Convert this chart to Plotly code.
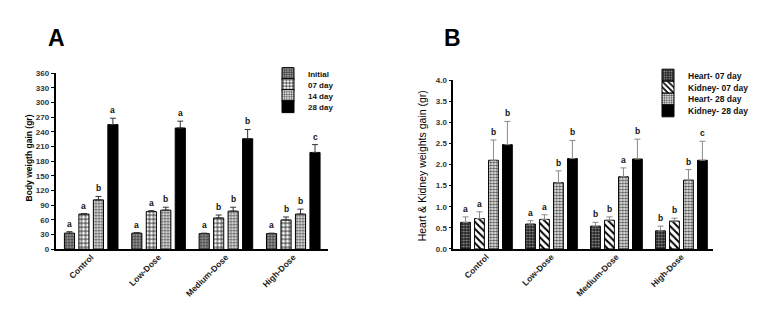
import plotly.graph_objects as go

W, H = 763, 310
FONT = "Liberation Sans, Arial, sans-serif"

groups = ["Control", "Low-Dose", "Medium-Dose", "High-Dose"]

# Panel A: body weight gain (gr)
a_names = ["Initial", "07 day", "14 day", "28 day"]
a_initial = [33, 33, 32, 32]
a_initial_err = [3, 1, 1, 1]
a_d07 = [72, 77, 64, 60]
a_d07_err = [1, 2, 6, 6]
a_d14 = [101, 80, 78, 72]
a_d14_err = [7, 6, 8, 10]
a_d28 = [255, 248, 226, 198]
a_d28_err = [13, 14, 19, 16]
a_letters = [["a", "a", "a", "a"], ["a", "a", "b", "b"], ["b", "b", "b", "b"], ["a", "a", "b", "c"]]
a_yticks = [0, 30, 60, 90, 120, 150, 180, 210, 240, 270, 300, 330, 360]

# Panel B: heart & kidney weights gain (gr)
b_names = ["Heart- 07 day", "Kidney- 07 day", "Heart- 28 day", "Kidney- 28 day"]
b_h07 = [0.63, 0.59, 0.54, 0.43]
b_h07_err = [0.13, 0.08, 0.09, 0.11]
b_k07 = [0.72, 0.70, 0.68, 0.66]
b_k07_err = [0.16, 0.11, 0.08, 0.07]
b_h28 = [2.10, 1.57, 1.71, 1.63]
b_h28_err = [0.48, 0.28, 0.21, 0.25]
b_k28 = [2.47, 2.14, 2.13, 2.10]
b_k28_err = [0.55, 0.43, 0.47, 0.45]
b_letters = [["a", "a", "b", "b"], ["a", "a", "b", "b"], ["b", "b", "a", "b"], ["b", "b", "b", "c"]]
b_yticks = [0.0, 0.5, 1.0, 1.5, 2.0, 2.5, 3.0, 3.5, 4.0]

BARGAP = 0.14
BARGROUPGAP = 0.3

pat_initial = dict(shape=".", fgcolor="#333333", bgcolor="#a0a0a0", size=3, solidity=0.45, fillmode="replace")
pat_grid = dict(shape="+", fgcolor="#000000", bgcolor="#ffffff", size=4, solidity=0.35, fillmode="replace")
pat_check = dict(shape=".", fgcolor="#555555", bgcolor="#ffffff", size=3, solidity=0.5, fillmode="replace")
pat_dark = dict(shape=".", fgcolor="#9a9a9a", bgcolor="#222222", size=3, solidity=0.3, fillmode="replace")
pat_diag = dict(shape="\\", fgcolor="#000000", bgcolor="#ffffff", size=5, solidity=0.4, fillmode="replace")

fig = go.Figure()

a_series = [(a_initial, a_initial_err, pat_initial), (a_d07, a_d07_err, pat_grid),
            (a_d14, a_d14_err, pat_check), (a_d28, a_d28_err, None)]
b_series = [(b_h07, b_h07_err, pat_dark), (b_k07, b_k07_err, pat_diag),
            (b_h28, b_h28_err, pat_check), (b_k28, b_k28_err, None)]

for k, (vals, errs, pat) in enumerate(a_series):
    marker = dict(color="#000000" if pat is None else "#ffffff", line=dict(color="#000000", width=1))
    if pat is not None:
        marker["pattern"] = pat
    fig.add_trace(go.Bar(
        x=groups, y=vals, name=a_names[k], marker=marker,
        error_y=dict(type="data", array=errs, arrayminus=[0] * len(errs), symmetric=False,
                     color="#333333", thickness=1, width=3),
        xaxis="x", yaxis="y", legend="legend" if k == 0 else f"legend{k + 1}",
    ))

for k, (vals, errs, pat) in enumerate(b_series):
    marker = dict(color="#000000" if pat is None else "#ffffff", line=dict(color="#000000", width=1))
    if pat is not None:
        marker["pattern"] = pat
    fig.add_trace(go.Bar(
        x=groups, y=vals, name=b_names[k], marker=marker,
        error_y=dict(type="data", array=errs, arrayminus=[0] * len(errs), symmetric=False,
                     color="#8a8a8a", thickness=1, width=3),
        xaxis="x2", yaxis="y2", legend=f"legend{k + 5}",
    ))

# significance letters above error bars
slot = (1 - BARGAP) / 4
offsets = [-(1 - BARGAP) / 2 + slot * (k + 0.5) for k in range(4)]
annotations = []
for series, letters, xr, yr in ((a_series, a_letters, "x", "y"), (b_series, b_letters, "x2", "y2")):
    for k, (vals, errs, _) in enumerate(series):
        for i in range(len(groups)):
            annotations.append(dict(
                x=i + offsets[k], y=vals[i] + errs[i], xref=xr, yref=yr, text=letters[k][i],
                showarrow=False, yanchor="bottom", yshift=1,
                font=dict(family=FONT, size=8.5, color="#111111", weight="bold")))

# panel letters and y-axis titles
annotations += [
    dict(text="A", x=56 / W, y=1 - 35 / H, xref="paper", yref="paper", showarrow=False,
         xanchor="center", yanchor="middle", font=dict(family=FONT, size=23, color="#000", weight="bold")),
    dict(text="B", x=452 / W, y=1 - 35 / H, xref="paper", yref="paper", showarrow=False,
         xanchor="center", yanchor="middle", font=dict(family=FONT, size=23, color="#000", weight="bold")),
    dict(text="Body weigth gain (gr)", x=28.5 / W, y=1 - 158.5 / H, xref="paper", yref="paper",
         showarrow=False, textangle=-90, xanchor="center", yanchor="middle",
         font=dict(family=FONT, size=8.5, color="#000", weight="bold")),
    dict(text="Heart &amp; Kidney weights gain (gr)", x=421.7 / W, y=1 - 166.5 / H, xref="paper", yref="paper",
         showarrow=False, textangle=-90, xanchor="center", yanchor="middle",
         font=dict(family=FONT, size=10.5, color="#000")),
]

axis_common = dict(showline=True, linecolor="#000", linewidth=1.5, showgrid=False, zeroline=False,
                   mirror=False)
xtick_font = dict(family=FONT, size=8.5, color="#222", weight="bold")
ytick_font = dict(family=FONT, size=8, color="#333", weight="bold")

leg_common = dict(bgcolor="rgba(0,0,0,0)", borderwidth=0, xanchor="left", yanchor="middle",
                  font=dict(family=FONT, size=8, color="#111", weight="bold"), itemclick=False)
legends = {}
a_rows = [71.7, 83.0, 94.3, 105.7]
b_rows = [73.3, 85.7, 98.0, 110.0]
for k in range(4):
    key = "legend" if k == 0 else f"legend{k + 1}"
    legends[key] = dict(leg_common, x=268 / W, y=1 - a_rows[k] / H)
for k in range(4):
    key = f"legend{k + 5}"
    legends[key] = dict(leg_common, x=648 / W, y=1 - b_rows[k] / H,
                        font=dict(family=FONT, size=8.5, color="#111", weight="bold"))

fig.update_layout(
    width=W, height=H, margin=dict(l=0, r=0, t=0, b=0),
    paper_bgcolor="#ffffff", plot_bgcolor="#ffffff",
    barmode="group", bargap=BARGAP, bargroupgap=BARGROUPGAP,
    showlegend=True,
    xaxis=dict(axis_common, domain=[55.5 / W, 328.3 / W], range=[-0.53, 3.52], anchor="y",
               tickangle=-45, tickfont=xtick_font, ticks="", ticklabelstandoff=-2),
    yaxis=dict(axis_common, domain=[1 - 252.6 / H, 1 - 71.3 / H], range=[0, 360], anchor="x",
               tickvals=a_yticks, ticks="outside", ticklen=3, tickwidth=1, tickcolor="#000",
               tickfont=ytick_font),
    xaxis2=dict(axis_common, domain=[453.3 / W, 713.3 / W], range=[-0.51, 3.49], anchor="y2",
                tickangle=-45, tickfont=xtick_font, ticks="", ticklabelstandoff=-2),
    yaxis2=dict(axis_common, domain=[1 - 252.3 / H, 1 - 78.3 / H], range=[0, 4], anchor="x2",
                tickvals=b_yticks, tickformat=".1f", ticks="outside", ticklen=3, tickwidth=1,
                tickcolor="#000", tickfont=ytick_font),
    annotations=annotations,
    **legends,
)

fig.write_html(
    "out.html",
    config={"displayModeBar": False},
    post_script="document.body.style.margin='0';document.body.style.padding='0';",
)
